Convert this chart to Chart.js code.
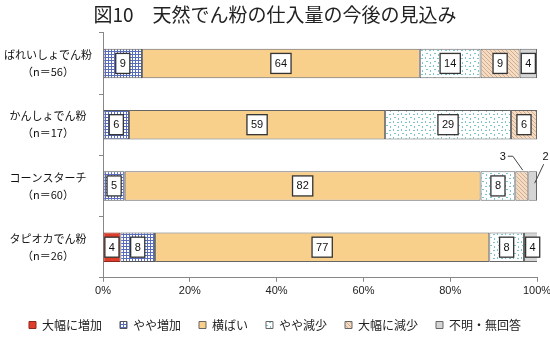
<!DOCTYPE html>
<html>
<head>
<meta charset="utf-8">
<script src="https://cdn.jsdelivr.net/npm/chart.js@4.4.0/dist/chart.umd.min.js"></script>
<style>
  html, body { margin: 0; padding: 0; background: #fff; }
</style>
</head>
<body>
<canvas id="my-chart" width="550" height="337"></canvas>
<script>
const categories = [
    ['ばれいしょでん粉', '（n＝56）'],
    ['かんしょでん粉', '（n＝17）'],
    ['コーンスターチ', '（n＝60）'],
    ['タピオカでん粉', '（n＝26）']
];
const seriesNames = ['大幅に増加', 'やや増加', '横ばい', 'やや減少', '大幅に減少', '不明・無回答'];
const bigUp = [0, 0, 0, 4];
const smallUp = [9, 6, 5, 8];
const flat = [64, 59, 82, 77];
const smallDown = [14, 29, 8, 8];
const bigDown = [9, 6, 3, 0];
const unknown = [4, 0, 2, 4];
const xTicks = [0, 20, 40, 60, 80, 100];

Chart.defaults.font.family = '"Noto Sans CJK JP", sans-serif';

function makePattern(size, draw) {
    const c = document.createElement('canvas');
    c.width = size;
    c.height = size;
    const g = c.getContext('2d');
    draw(g, size);
    return g.createPattern(c, 'repeat');
}

const checkBlue = makePattern(3, (g, s) => {
    g.fillStyle = '#fff';
    g.fillRect(0, 0, s, s);
    g.fillStyle = '#5a6cbc';
    g.fillRect(0, 0, s, 1);
    g.fillRect(0, 0, 1, s);
});

const dotsTeal = makePattern(8, (g, s) => {
    g.fillStyle = '#fff';
    g.fillRect(0, 0, s, s);
    g.fillStyle = '#7cc6cc';
    g.fillRect(1, 1, 1, 2);
    g.fillRect(5, 2, 2, 1);
    g.fillRect(2, 5, 2, 1);
    g.fillRect(6, 6, 1, 2);
});

const hatchBrown = makePattern(4, (g, s) => {
    g.fillStyle = '#f4dcc4';
    g.fillRect(0, 0, s, s);
    g.strokeStyle = '#c9a07e';
    g.lineWidth = 0.8;
    for (let k = -1; k <= 1; k++) {
        g.beginPath();
        g.moveTo(k * s, 0);
        g.lineTo(k * s + s, s);
        g.stroke();
    }
});

const fills = ['#e03c2a', checkBlue, '#f9cf8c', dotsTeal, hatchBrown, '#d5d5d5'];
const borders = ['#8a2a1e', '#555', '#666', '#666', '#666', '#666'];
const seriesValues = [bigUp, smallUp, flat, smallDown, bigDown, unknown];

// white boxed numbers inside bars, callouts for the thin ones
const boxLabels = {
    id: 'boxLabels',
    afterDatasetsDraw(chart) {
        const ctx = chart.ctx;
        ctx.save();
        ctx.font = '11px "Liberation Sans", Arial, sans-serif';
        ctx.textAlign = 'center';
        ctx.textBaseline = 'middle';
        chart.data.datasets.forEach((ds, di) => {
            const meta = chart.getDatasetMeta(di);
            meta.data.forEach((bar, i) => {
                const v = ds.data[i];
                if (!v) return;
                const cx = (bar.x + bar.base) / 2;
                const txt = String(v);
                if (v >= 4) {
                    const w = ctx.measureText(txt).width + 8;
                    const h = 20;
                    ctx.fillStyle = '#fff';
                    ctx.fillRect(cx - w / 2, bar.y - h / 2, w, h);
                    ctx.strokeStyle = '#333';
                    ctx.lineWidth = 1.3;
                    ctx.strokeRect(cx - w / 2, bar.y - h / 2, w, h);
                    ctx.fillStyle = '#111';
                    ctx.fillText(txt, cx, bar.y + 0.5);
                } else {
                    const top = bar.y - bar.height / 2;
                    ctx.strokeStyle = '#444';
                    ctx.lineWidth = 1;
                    ctx.fillStyle = '#111';
                    ctx.beginPath();
                    if (di === chart.data.datasets.length - 1) {
                        ctx.fillText(txt, cx + 13, top - 14);
                        ctx.moveTo(cx + 11, top - 7);
                        ctx.lineTo(cx + 2, top + 12);
                    } else {
                        ctx.fillText(txt, cx - 19, top - 14);
                        ctx.moveTo(cx - 14, top - 15);
                        ctx.lineTo(cx - 9, top - 15);
                        ctx.lineTo(cx + 1, top - 1);
                    }
                    ctx.stroke();
                }
            });
        });
        ctx.restore();
    }
};

const ctx = document.getElementById('my-chart').getContext('2d');
new Chart(ctx, {
    type: 'bar',
    data: {
        labels: categories,
        datasets: seriesNames.map((name, k) => ({
            label: name,
            data: seriesValues[k],
            backgroundColor: fills[k],
            borderColor: borders[k],
            borderWidth: 1,
            borderSkipped: false,
            barPercentage: 0.48,
            categoryPercentage: 1
        }))
    },
    options: {
        indexAxis: 'y',
        responsive: false,
        animation: false,
        layout: { padding: 0 },
        scales: {
            x: {
                stacked: true,
                min: 0,
                max: 100,
                afterBuildTicks: s => { s.ticks = xTicks.map(v => ({ value: v })); },
                afterFit: s => { s.paddingLeft = 0; s.paddingRight = 13; },
                ticks: {
                    callback: v => v + '%',
                    font: { size: 11, family: '"Liberation Sans", Arial, sans-serif' },
                    color: '#222',
                    padding: 3,
                    maxRotation: 0
                },
                grid: { drawOnChartArea: false, tickLength: 4, color: '#888' },
                border: { color: '#888' }
            },
            y: {
                stacked: true,
                afterFit: s => { s.width = 103; s.paddingTop = 0; s.paddingBottom = 0; },
                ticks: {
                    crossAlign: 'center',
                    font: { size: 11, lineHeight: 1.55 },
                    color: '#111',
                    padding: 7
                },
                grid: { drawOnChartArea: false, offset: true, tickLength: 4, color: '#888' },
                border: { color: '#888' }
            }
        },
        plugins: {
            title: {
                display: true,
                text: '図10　天然でん粉の仕入量の今後の見込み',
                font: { size: 19, weight: 'normal' },
                color: '#222',
                padding: { top: 3, bottom: 7 }
            },
            legend: {
                position: 'bottom',
                maxHeight: 36,
                labels: {
                    boxWidth: 7,
                    boxHeight: 7,
                    padding: 18,
                    color: '#222',
                    font: { size: 12 }
                }
            },
            tooltip: { enabled: false }
        }
    },
    plugins: [boxLabels]
});
</script>
</body>
</html>
